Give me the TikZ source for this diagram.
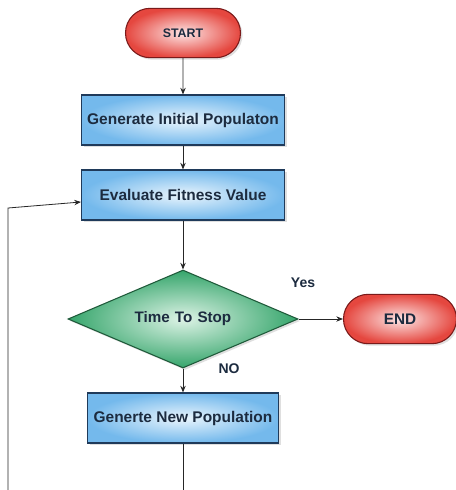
\documentclass[tikz,border=0pt]{standalone}
\usepackage{fontspec}
\setmainfont{Liberation Sans}
\usetikzlibrary{shapes.geometric,shapes.misc,arrows.meta,shadows}
\definecolor{txt}{HTML}{1C2B3F}
\definecolor{bluein}{HTML}{EAF5FD}
\definecolor{blueout}{HTML}{74B9EC}
\definecolor{blueline}{HTML}{1F3A5A}
\definecolor{redin}{HTML}{FDE6E6}
\definecolor{redout}{HTML}{E5473F}
\definecolor{redline}{HTML}{7A1A1A}
\definecolor{greenin}{HTML}{DDF3E6}
\definecolor{greenout}{HTML}{35A56B}
\definecolor{greenline}{HTML}{1F5A3A}
\tikzset{
  procbox/.style={rectangle, draw=blueline, line width=0.8pt, inner color=bluein, outer color=blueout,
    minimum width=#1*0.75pt, minimum height=37.5pt, inner sep=0pt, font=\bfseries\fontsize{11.6}{13}\selectfont, text=txt,
    drop shadow={opacity=0.25, shadow xshift=1.5pt, shadow yshift=-1.5pt}},
  termbox/.style={rounded rectangle, draw=redline, line width=0.8pt, inner color=redin, outer color=redout,
    minimum width=#1*0.75pt, minimum height=37pt, inner sep=0pt, text=txt,
    drop shadow={opacity=0.25, shadow xshift=1.5pt, shadow yshift=-1.5pt}},
  decbox/.style={diamond, draw=greenline, line width=0.8pt, inner color=greenin, outer color=greenout,
    minimum width=172.5pt, minimum height=73.5pt, inner sep=0pt, aspect=2.35, text=txt,
    font=\bfseries\fontsize{11.4}{13}\selectfont,
    drop shadow={opacity=0.25, shadow xshift=1.5pt, shadow yshift=-1.5pt}},
  conn/.style={draw=black!85, line width=0.6pt},
  arr/.style={conn, -{Stealth[length=5pt,width=4pt]}},
  lbl/.style={text=txt, font=\bfseries\fontsize{10.5}{12}\selectfont, inner sep=0pt}
}
\begin{document}
\begin{tikzpicture}[x=0.75pt, y=-0.75pt]
\useasboundingbox[fill=white] (0,0) rectangle (456,490);
\node[termbox=115, font=\bfseries\fontsize{9.3}{11}\selectfont] (start) at (183,33) {START};
\node[procbox=203] (gen) at (183,120) {Generate Initial Populaton};
\node[procbox=203] (eval) at (183,195) {Evaluate Fitness Value};
\node[decbox, text width=90pt, align=center] (dec) at (183,319) {Time To Stop};
\node[termbox=113, font=\bfseries\fontsize{11.5}{13}\selectfont] (end) at (400,319) {END};
\node[procbox=191] (new) at (183,418) {Generte New Population};
\node[lbl] (yes) at (303,283) {Yes};
\node[lbl] (no) at (229,369) {NO};
\coordinate (b1) at (183,492);
\coordinate (b2) at (8,492);
\coordinate (c1) at (8,208);
\draw[arr] (start) -- (gen);
\draw[arr] (gen) -- (eval);
\draw[arr] (eval) -- (dec);
\draw[arr] (dec) -- (end);
\draw[arr] (dec) -- (new);
\draw[conn] (new) -- (b1);
\draw[arr] (b2) -- (c1) -- ([yshift=-7pt*0.75]eval.west);
\end{tikzpicture}
\end{document}
